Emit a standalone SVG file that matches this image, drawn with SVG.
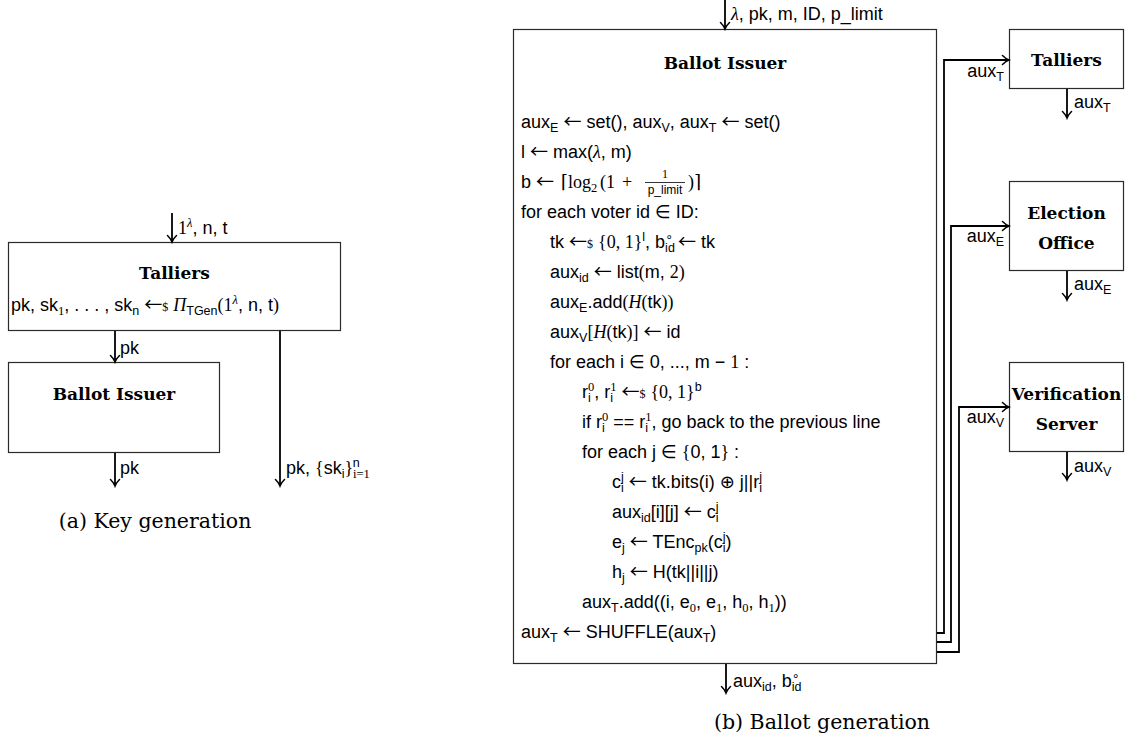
<svg xmlns="http://www.w3.org/2000/svg" width="1130" height="744" viewBox="0 0 1130 744">
  <style>
    .box { fill: #fff; stroke: #2a2a2a; stroke-width: 1.2; }
    .ttl { font-family: "DejaVu Serif", "Liberation Serif", serif; font-weight: bold; font-size: 17px; fill: #000; text-anchor: middle; }
    .sf { font-family: "Liberation Sans", "DejaVu Sans", sans-serif; font-size: 18px; fill: #000; }
    .rm { font-family: "Liberation Serif", "DejaVu Serif", serif; font-style: normal; }
    .mi { font-family: "Liberation Serif", "DejaVu Serif", serif; font-style: italic; }
    .ar { font-family: "Noto Sans CJK JP", "DejaVu Sans", sans-serif; font-size: 18px; }
    .sb { font-size: 12.5px; baseline-shift: -4px; }
    .sp { font-size: 12.5px; baseline-shift: 7px; }
    .dol { font-family: "Liberation Serif", "DejaVu Serif", serif; font-size: 12px; }
    .sm { font-size: 12px; }
    .cap { font-family: "DejaVu Serif", "Liberation Serif", serif; font-size: 20.5px; fill: #000; text-anchor: middle; }
    .wire { fill: none; stroke: #000; stroke-width: 1.8; }
  </style>
  <defs>
    <marker id="ah" viewBox="-8 -6 10 12" refX="0" refY="0" markerWidth="10" markerHeight="12" markerUnits="userSpaceOnUse" orient="auto">
      <path d="M-6.5,-4.5 C-4,-2 -1.5,-0.5 0,0 C-1.5,0.5 -4,2 -6.5,4.5" fill="none" stroke="#000" stroke-width="1.5" stroke-linecap="round"/>
    </marker>
  </defs>

  <!-- (a) key generation -->
  <g id="kg-talliers">
    <rect class="box" x="8.5" y="242.5" width="332" height="88"/>
    <text class="ttl" x="174.5" y="279">Talliers</text>
    <text class="sf" x="11" y="311">pk, sk<tspan class="sb rm">1</tspan>, . . . , sk<tspan class="sb">n</tspan> <tspan class="ar">←</tspan><tspan class="dol">$</tspan> <tspan class="mi">Π</tspan><tspan class="sb">TGen</tspan><tspan class="rm">(1</tspan><tspan class="sp mi">λ</tspan>, n, t<tspan class="rm">)</tspan></text>
  </g>
  <g id="kg-ballot-issuer">
    <rect class="box" x="8.5" y="362.5" width="211" height="90"/>
    <text class="ttl" x="114" y="400">Ballot Issuer</text>
  </g>

  <!-- (b) ballot generation -->
  <g id="bg-ballot-issuer">
    <rect class="box" x="513.5" y="29.5" width="423" height="634"/>
    <text class="ttl" x="725" y="69">Ballot Issuer</text>
    <text class="sf" x="521" y="128">aux<tspan class="sb">E</tspan> <tspan class="ar">←</tspan> set(), aux<tspan class="sb">V</tspan>, aux<tspan class="sb">T</tspan> <tspan class="ar">←</tspan> set()</text>
    <text class="sf" x="521" y="158">l <tspan class="ar">←</tspan> max(<tspan class="mi">λ</tspan>, m)</text>
    <text class="sf" x="521" y="188">b <tspan class="ar">←</tspan></text>
    <text class="sf rm" x="561" y="188">⌈log<tspan class="sb">2</tspan></text>
    <text class="sf rm" x="600" y="188">(1</text>
    <text class="sf rm" x="622" y="188">+</text>
    <text class="sf rm sm" x="665" y="178" text-anchor="middle">1</text>
    <line x1="645" y1="182.5" x2="685" y2="182.5" stroke="#000" stroke-width="0.8"/>
    <text class="sf sm" x="665" y="194" text-anchor="middle">p_limit</text>
    <text class="sf rm" x="688" y="188">)⌉</text>
    <text class="sf" x="521" y="218">for each voter id ∈ ID:</text>
    <text class="sf" x="550" y="248">tk <tspan class="ar">←</tspan><tspan class="dol">$</tspan> <tspan class="rm">{0, 1}</tspan><tspan class="sp">l</tspan>, b<tspan class="sb">id</tspan><tspan class="sp" dx="-9.7">∘</tspan> <tspan class="ar">←</tspan> tk</text>
    <text class="sf" x="550" y="278">aux<tspan class="sb">id</tspan> <tspan class="ar">←</tspan> list<tspan class="rm">(</tspan>m, <tspan class="rm">2)</tspan></text>
    <text class="sf" x="550" y="308">aux<tspan class="sb">E</tspan>.add<tspan class="rm">(</tspan><tspan class="mi">H</tspan><tspan class="rm">(</tspan>tk<tspan class="rm">))</tspan></text>
    <text class="sf" x="550" y="338">aux<tspan class="sb">V</tspan><tspan class="rm">[</tspan><tspan class="mi">H</tspan><tspan class="rm">(</tspan>tk<tspan class="rm">)]</tspan> <tspan class="ar">←</tspan> id</text>
    <text class="sf" x="550" y="368">for each i ∈ 0, ..., m − <tspan class="rm">1</tspan> :</text>
    <text class="sf" x="582" y="398">r<tspan class="sb">i</tspan><tspan class="sp rm" dx="-2.8">0</tspan>, r<tspan class="sb">i</tspan><tspan class="sp rm" dx="-2.8">1</tspan> <tspan class="ar">←</tspan><tspan class="dol">$</tspan> <tspan class="rm">{0, 1}</tspan><tspan class="sp">b</tspan></text>
    <text class="sf" x="582" y="428">if r<tspan class="sb">i</tspan><tspan class="sp rm" dx="-2.8">0</tspan> == r<tspan class="sb">i</tspan><tspan class="sp rm" dx="-2.8">1</tspan>, go back to the previous line</text>
    <text class="sf" x="582" y="458">for each j ∈ <tspan class="rm">{</tspan>0, 1<tspan class="rm">}</tspan> :</text>
    <text class="sf" x="612" y="488">c<tspan class="sb">i</tspan><tspan class="sp" dx="-2.8">j</tspan> <tspan class="ar">←</tspan> tk.bits(i) ⊕ j||r<tspan class="sb">i</tspan><tspan class="sp" dx="-2.8">j</tspan></text>
    <text class="sf" x="612" y="518">aux<tspan class="sb">id</tspan>[i][j] <tspan class="ar">←</tspan> c<tspan class="sb">i</tspan><tspan class="sp" dx="-2.8">j</tspan></text>
    <text class="sf" x="612" y="548">e<tspan class="sb">j</tspan> <tspan class="ar">←</tspan> TEnc<tspan class="sb">pk</tspan>(c<tspan class="sb">i</tspan><tspan class="sp" dx="-2.8">j</tspan>)</text>
    <text class="sf" x="612" y="578">h<tspan class="sb">j</tspan> <tspan class="ar">←</tspan> H(tk||i||j)</text>
    <text class="sf" x="582" y="608">aux<tspan class="sb">T</tspan>.add((i, e<tspan class="sb rm">0</tspan>, e<tspan class="sb rm">1</tspan>, h<tspan class="sb rm">0</tspan>, h<tspan class="sb rm">1</tspan>))</text>
    <text class="sf" x="521" y="638">aux<tspan class="sb">T</tspan> <tspan class="ar">←</tspan> SHUFFLE(aux<tspan class="sb">T</tspan>)</text>
  </g>

  <g id="bg-talliers">
    <rect class="box" x="1009.5" y="29.5" width="114" height="59"/>
    <text class="ttl" x="1066.5" y="66">Talliers</text>
  </g>
  <g id="bg-election-office">
    <rect class="box" x="1009.5" y="181.5" width="114" height="89"/>
    <text class="ttl" x="1066.5" y="219">Election</text>
    <text class="ttl" x="1066.5" y="249">Office</text>
  </g>
  <g id="bg-verification-server">
    <rect class="box" x="1009.5" y="362.5" width="114" height="89"/>
    <text class="ttl" x="1066.5" y="400">Verification</text>
    <text class="ttl" x="1066.5" y="430">Server</text>
  </g>

  <g id="connectors">
    <!-- key generation wires -->
    <path class="wire" d="M172,213 V242" marker-end="url(#ah)"/>
    <path class="wire" d="M115,331 V362" marker-end="url(#ah)"/>
    <path class="wire" d="M115,453 V486" marker-end="url(#ah)"/>
    <path class="wire" d="M280,331 V486" marker-end="url(#ah)"/>
    <text class="sf" x="178" y="234"><tspan class="rm">1</tspan><tspan class="sp mi">λ</tspan>, n, t</text>
    <text class="sf" x="120" y="354">pk</text>
    <text class="sf" x="120" y="474">pk</text>
    <text class="sf" x="286" y="474">pk, <tspan class="rm">{</tspan>sk<tspan class="sb">i</tspan><tspan class="rm">}</tspan><tspan class="sb rm">i=1</tspan><tspan class="sp" dx="-17">n</tspan></text>

    <!-- ballot generation wires -->
    <path class="wire" d="M725,0 V29" marker-end="url(#ah)"/>
    <path class="wire" d="M726,664 V693" marker-end="url(#ah)"/>
    <path class="wire" d="M937,633 H944 V60 H1009" marker-end="url(#ah)"/>
    <path class="wire" d="M937,642 H951 V226 H1009" marker-end="url(#ah)"/>
    <path class="wire" d="M937,652 H959 V407 H1009" marker-end="url(#ah)"/>
    <path class="wire" d="M1067,89 V118" marker-end="url(#ah)"/>
    <path class="wire" d="M1067,271 V300" marker-end="url(#ah)"/>
    <path class="wire" d="M1067,452 V480" marker-end="url(#ah)"/>
    <text class="sf" x="731" y="20"><tspan class="mi">λ</tspan>, pk, m, ID, p_limit</text>
    <text class="sf" x="733" y="687">aux<tspan class="sb">id</tspan>, b<tspan class="sb">id</tspan><tspan class="sp" dx="-9.7">∘</tspan></text>
    <text class="sf" x="1004" y="77" text-anchor="end">aux<tspan class="sb">T</tspan></text>
    <text class="sf" x="1004" y="242" text-anchor="end">aux<tspan class="sb">E</tspan></text>
    <text class="sf" x="1004" y="423" text-anchor="end">aux<tspan class="sb">V</tspan></text>
    <text class="sf" x="1074" y="108">aux<tspan class="sb">T</tspan></text>
    <text class="sf" x="1074" y="290">aux<tspan class="sb">E</tspan></text>
    <text class="sf" x="1074" y="472">aux<tspan class="sb">V</tspan></text>
  </g>

  <text class="cap" x="155" y="528">(a) Key generation</text>
  <text class="cap" x="822" y="729">(b) Ballot generation</text>
</svg>
